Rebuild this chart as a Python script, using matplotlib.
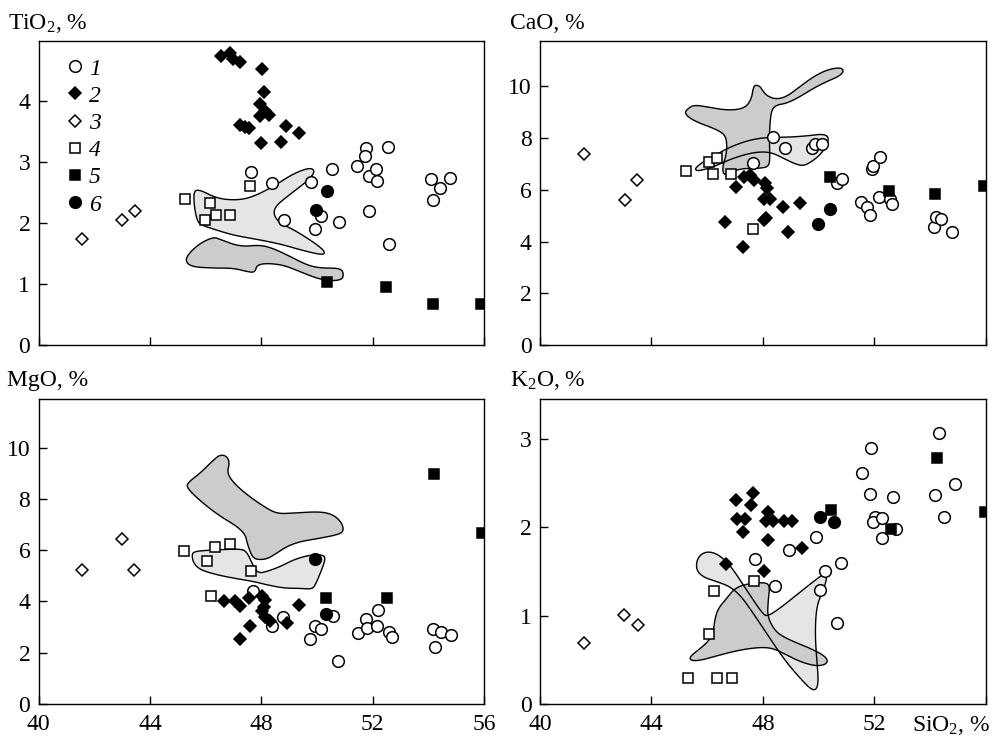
import numpy as np
import matplotlib.pyplot as plt

plt.rcParams['font.family'] = 'Liberation Serif'
plt.rcParams['mathtext.fontset'] = 'custom'
plt.rcParams['mathtext.rm'] = 'Liberation Serif'
plt.rcParams['mathtext.it'] = 'Liberation Serif:italic'

# ---- TiO2 vs SiO2 ----
tio2_g1 = [(47.63, 2.84), (48.38, 2.66), (48.80, 2.05), (49.79, 2.67), (49.92, 1.90), (50.16, 2.11),
           (50.54, 2.88), (50.78, 2.02), (51.42, 2.93), (51.77, 3.22), (51.73, 3.09), (51.86, 2.77),
           (52.13, 2.89), (52.14, 2.68), (51.86, 2.20), (52.56, 3.24), (52.60, 1.65), (54.10, 2.72),
           (54.41, 2.58), (54.76, 2.73), (54.18, 2.37)]
tio2_g2 = [(46.55, 4.74), (46.89, 4.78), (47.00, 4.68), (47.22, 4.64), (48.02, 4.52), (48.08, 4.15),
           (47.97, 3.95), (48.14, 3.84), (48.26, 3.77), (47.97, 3.75), (47.24, 3.61), (47.54, 3.55),
           (47.42, 3.57), (48.90, 3.58), (49.37, 3.48), (47.99, 3.31), (48.71, 3.32)]
tio2_g3 = [(41.57, 1.73), (43.01, 2.05), (43.46, 2.19)]
tio2_g4 = [(45.27, 2.40), (47.60, 2.61), (46.17, 2.32), (46.36, 2.13), (46.86, 2.13), (45.99, 2.04)]
tio2_g5 = [(50.36, 1.03), (52.49, 0.95), (54.16, 0.67), (55.88, 0.67)]
tio2_g6 = [(50.36, 2.52), (49.98, 2.22)]
tio2_light = [(45.57, 2.53), (45.81, 2.54), (46.41, 2.40), (47.13, 2.37), (47.72, 2.43), (48.44, 2.60),
              (49.16, 2.81), (49.76, 2.91), (49.94, 2.84), (49.64, 2.68), (48.92, 2.43), (48.50, 2.27),
              (48.44, 2.13), (48.68, 1.99), (49.16, 1.89), (49.76, 1.72), (50.18, 1.58), (50.30, 1.50),
              (50.12, 1.48), (49.40, 1.56), (48.80, 1.64), (48.20, 1.70), (47.60, 1.75), (47.00, 1.80),
              (46.41, 1.88), (45.81, 1.97), (45.69, 2.05), (45.59, 2.27)]
tio2_dark = [(46.29, 1.77), (46.52, 1.73), (47.24, 1.61), (47.96, 1.64), (48.44, 1.58), (49.04, 1.45),
             (49.64, 1.31), (50.12, 1.26), (50.84, 1.26), (50.96, 1.17), (50.90, 1.07), (50.49, 1.05),
             (50.01, 1.09), (49.40, 1.20), (48.80, 1.31), (48.20, 1.34), (47.84, 1.31), (47.78, 1.20),
             (47.60, 1.19), (47.00, 1.26), (46.29, 1.26), (45.51, 1.28), (45.27, 1.37), (45.39, 1.50),
             (45.81, 1.67)]

# ---- CaO vs SiO2 ----
cao_g1 = [(48.35, 8.05), (48.80, 7.63), (49.76, 7.60), (49.88, 7.77), (50.12, 7.77), (47.64, 7.05),
          (50.64, 6.27), (50.82, 6.42), (51.50, 5.54), (51.74, 5.32), (51.84, 5.03), (51.92, 6.80),
          (51.95, 6.92), (52.21, 7.28), (52.15, 5.73), (52.55, 5.63), (52.63, 5.45), (54.13, 4.57),
          (54.22, 4.96), (54.40, 4.86), (54.78, 4.36)]
cao_g2 = [(47.05, 6.12), (47.31, 6.51), (47.55, 6.57), (47.67, 6.38), (48.09, 6.27), (48.15, 6.08),
          (48.03, 5.63), (48.25, 5.63), (48.71, 5.32), (49.32, 5.50), (46.63, 4.74), (48.03, 4.83),
          (48.10, 4.90), (48.90, 4.36), (47.27, 3.78)]
cao_g3 = [(41.59, 7.37), (43.48, 6.38), (43.04, 5.60)]
cao_g4 = [(45.25, 6.74), (46.05, 7.06), (46.35, 7.22), (46.21, 6.61), (46.87, 6.61), (47.64, 4.50)]
cao_g5 = [(50.39, 6.51), (52.51, 5.96), (54.16, 5.84), (55.92, 6.15)]
cao_g6 = [(50.39, 5.26), (49.96, 4.68)]
cao_light = [(45.56, 6.83), (45.86, 7.09), (46.22, 7.28), (46.64, 7.56), (47.17, 7.80), (47.65, 7.95),
             (48.19, 8.03), (48.85, 8.03), (49.57, 8.08), (50.16, 8.16), (50.37, 8.03), (50.28, 7.69),
             (50.05, 7.35), (49.75, 7.09), (49.45, 6.92), (49.15, 7.00), (48.73, 7.22), (48.31, 7.44),
             (47.89, 7.47), (47.41, 7.38), (46.94, 7.22), (46.58, 7.06), (46.22, 6.89), (45.86, 6.77),
             (45.62, 6.73)]
cao_dark = [(45.26, 9.09), (45.50, 9.28), (45.98, 9.21), (46.58, 9.09), (47.06, 9.09), (47.41, 9.21),
            (47.59, 9.54), (47.65, 9.92), (47.71, 10.05), (47.89, 10.01), (48.01, 9.79), (48.19, 9.60),
            (48.49, 9.50), (48.85, 9.60), (49.33, 9.99), (49.81, 10.37), (50.28, 10.63), (50.76, 10.73),
            (50.91, 10.61), (50.76, 10.40), (50.28, 10.18), (49.81, 9.92), (49.33, 9.60), (48.85, 9.34),
            (48.49, 9.28), (48.31, 9.09), (48.25, 8.57), (48.23, 7.93), (48.25, 7.15), (48.19, 6.89),
            (47.89, 6.83), (47.41, 6.83), (47.06, 6.77), (46.82, 6.64), (46.58, 6.57), (46.55, 6.89),
            (46.70, 7.41), (46.70, 7.93), (46.58, 8.18), (46.22, 8.38), (45.74, 8.57), (45.38, 8.76),
            (45.20, 8.96)]

# ---- MgO vs SiO2 ----
mgo_g1 = [(47.69, 4.39), (48.78, 3.41), (48.38, 3.06), (49.94, 3.06), (50.15, 2.92), (49.76, 2.54),
          (50.58, 3.44), (50.76, 1.68), (51.48, 2.76), (51.77, 3.32), (51.80, 2.96), (52.16, 3.05),
          (52.20, 3.67), (52.58, 2.82), (52.68, 2.63), (54.15, 2.92), (54.46, 2.79), (54.80, 2.70),
          (54.23, 2.24)]
mgo_g2 = [(46.65, 4.00), (47.04, 4.00), (47.22, 3.84), (47.54, 4.13), (48.02, 4.22), (48.12, 4.06),
          (48.08, 3.80), (48.02, 3.61), (48.14, 3.41), (48.30, 3.25), (48.92, 3.15), (49.37, 3.87),
          (47.58, 3.06), (47.22, 2.54)]
mgo_g3 = [(41.55, 5.21), (42.99, 6.43), (43.43, 5.23)]
mgo_g4 = [(45.24, 5.95), (46.32, 6.11), (46.88, 6.24), (46.05, 5.56), (47.63, 5.17), (46.20, 4.23)]
mgo_g5 = [(54.20, 8.97), (55.94, 6.69), (50.34, 4.15), (52.52, 4.15)]
mgo_g6 = [(49.94, 5.66), (50.34, 3.52)]
mgo_light = [(45.54, 5.92), (45.81, 5.98), (46.53, 6.02), (47.24, 6.05), (47.48, 5.95), (47.72, 5.36),
             (47.90, 5.10), (48.20, 5.17), (48.68, 5.36), (49.16, 5.63), (49.76, 5.82), (50.24, 5.82),
             (50.30, 5.63), (50.12, 5.10), (49.94, 4.65), (49.82, 4.48), (49.40, 4.51), (48.80, 4.52),
             (48.20, 4.65), (47.72, 4.78), (47.00, 4.91), (46.41, 5.04), (45.81, 5.23), (45.57, 5.49),
             (45.51, 5.75)]
mgo_dark = [(45.33, 8.61), (45.81, 9.01), (46.29, 9.53), (46.53, 9.73), (46.77, 9.66), (46.86, 9.40),
            (46.77, 9.01), (47.01, 8.62), (47.49, 8.16), (48.08, 7.71), (48.56, 7.42), (49.16, 7.45),
            (50.12, 7.51), (50.60, 7.38), (50.90, 7.06), (50.96, 6.73), (50.72, 6.60), (50.12, 6.47),
            (49.40, 6.34), (48.92, 6.15), (48.56, 5.89), (48.20, 5.65), (47.84, 5.63), (47.66, 5.76),
            (47.49, 6.28), (47.43, 6.60), (47.13, 6.93), (46.53, 7.32), (46.05, 7.71), (45.63, 8.10),
            (45.35, 8.42)]

# ---- K2O vs SiO2 ----
k2o_g1 = [(51.89, 2.90), (54.30, 3.06), (51.55, 2.61), (51.85, 2.38), (52.66, 2.34), (54.18, 2.36),
          (54.90, 2.49), (54.50, 2.11), (52.01, 2.12), (51.95, 2.06), (52.27, 2.10), (52.27, 1.88),
          (52.78, 1.98), (49.91, 1.89), (48.92, 1.74), (47.72, 1.64), (48.42, 1.33), (50.24, 1.50),
          (50.03, 1.29), (50.81, 1.59), (50.66, 0.92)]
k2o_g2 = [(47.04, 2.31), (47.64, 2.39), (47.58, 2.25), (47.07, 2.09), (47.37, 2.09), (47.28, 1.94),
          (48.17, 2.17), (48.12, 2.07), (48.36, 2.07), (48.74, 2.07), (49.04, 2.07), (48.17, 1.86),
          (49.41, 1.76), (46.68, 1.58), (48.05, 1.50)]
k2o_g3 = [(41.59, 0.69), (43.03, 1.01), (43.52, 0.89)]
k2o_g4 = [(45.31, 0.29), (46.35, 0.29), (46.90, 0.29), (46.08, 0.79), (46.23, 1.28), (47.67, 1.39)]
k2o_g5 = [(50.45, 2.19), (54.24, 2.78), (55.98, 2.17), (52.59, 1.98)]
k2o_g6 = [(50.03, 2.12), (50.54, 2.06)]
k2o_light = [(45.92, 1.725), (46.34, 1.706), (46.82, 1.574), (47.41, 1.291), (48.01, 1.008), (48.19, 0.996),
             (48.61, 1.083), (49.21, 1.234), (49.81, 1.385), (50.16, 1.468), (50.31, 1.434), (50.16, 1.291),
             (49.92, 1.102), (49.87, 0.800), (49.93, 0.498), (49.99, 0.272), (49.93, 0.166), (49.75, 0.158),
             (49.39, 0.272), (48.97, 0.423), (48.61, 0.574), (48.13, 0.800), (47.65, 1.026), (47.23, 1.215),
             (46.82, 1.328), (46.34, 1.385), (45.86, 1.434), (45.60, 1.517), (45.64, 1.649)]
k2o_dark = [(46.99, 1.309), (47.41, 1.358), (48.01, 1.377), (48.25, 1.347), (48.19, 1.177), (48.16, 0.996),
            (48.37, 0.857), (48.61, 0.781), (49.09, 0.706), (49.69, 0.630), (50.16, 0.555), (50.34, 0.491),
            (50.22, 0.442), (49.87, 0.430), (49.33, 0.479), (48.85, 0.555), (48.37, 0.630), (47.89, 0.642),
            (47.17, 0.611), (46.46, 0.555), (45.74, 0.491), (45.40, 0.491), (45.38, 0.536), (45.68, 0.611),
            (46.04, 0.706), (46.22, 0.819), (46.28, 0.970), (46.40, 1.083), (46.70, 1.196)]

group_labels = ['1', '2', '3', '4', '5', '6']
styles = [dict(marker='o', mfc='white', ms=8.4),
          dict(marker='D', mfc='black', ms=6.5),
          dict(marker='D', mfc='white', ms=6.0),
          dict(marker='s', mfc='white', ms=7.3),
          dict(marker='s', mfc='black', ms=7.5),
          dict(marker='o', mfc='black', ms=8.4)]

LIGHT = '#e4e5e7'
DARK = '#cbccce'


def smooth(pts, n=3):
    # Chaikin corner cutting to round the traced outlines
    p = np.asarray(pts, float)
    for _ in range(n):
        q = np.roll(p, -1, axis=0)
        p = np.column_stack([0.75 * p + 0.25 * q, 0.25 * p + 0.75 * q]).reshape(-1, 2)
    return p


def panel(ax, groups, light, dark, ylim, yticks):
    lp, dp = smooth(light), smooth(dark)
    ax.fill(lp[:, 0], lp[:, 1], color=LIGHT, lw=0, zorder=1)
    ax.fill(dp[:, 0], dp[:, 1], color=DARK, lw=0, zorder=2)
    for p in (lp, dp):
        ax.fill(p[:, 0], p[:, 1], facecolor='none', edgecolor='black', lw=1.0, zorder=3)
    for pts, st, lab in zip(groups, styles, group_labels):
        a = np.array(pts)
        ax.plot(a[:, 0], a[:, 1], ls='none', mec='black', mew=1.1, zorder=4,
                label=lab, **st)
    ax.set_xlim(40, 56)
    ax.set_ylim(*ylim)
    ax.set_xticks([40, 44, 48, 52, 56])
    ax.set_yticks(yticks)
    ax.tick_params(direction='in', length=5.5, width=1, labelsize=17, pad=6)
    ax.tick_params(axis='x', pad=7)
    for s in ax.spines.values():
        s.set_linewidth(1)


fig = plt.figure(figsize=(9.97, 7.36), dpi=100)
ax_ti = fig.add_axes([0.0387, 0.5312, 0.4468, 0.4131])
ax_ca = fig.add_axes([0.5416, 0.5312, 0.4473, 0.4131])
ax_mg = fig.add_axes([0.0387, 0.0435, 0.4468, 0.4144])
ax_k = fig.add_axes([0.5416, 0.0435, 0.4473, 0.4144])

panel(ax_ti, [tio2_g1, tio2_g2, tio2_g3, tio2_g4, tio2_g5, tio2_g6], tio2_light, tio2_dark,
      (0, 4.98), [0, 1, 2, 3, 4])
panel(ax_ca, [cao_g1, cao_g2, cao_g3, cao_g4, cao_g5, cao_g6], cao_light, cao_dark,
      (0, 11.75), [0, 2, 4, 6, 8, 10])
panel(ax_mg, [mgo_g1, mgo_g2, mgo_g3, mgo_g4, mgo_g5, mgo_g6], mgo_light, mgo_dark,
      (0, 11.9), [0, 2, 4, 6, 8, 10])
panel(ax_k, [k2o_g1, k2o_g2, k2o_g3, k2o_g4, k2o_g5, k2o_g6], k2o_light, k2o_dark,
      (0, 3.45), [0, 1, 2, 3])

ax_ti.tick_params(labelbottom=False)
ax_ca.tick_params(labelbottom=False)
ax_k.set_xticklabels(['40', '44', '48', '52', ''])

leg = ax_ti.legend(loc='upper left', bbox_to_anchor=(0.039, 0.975), frameon=False,
                   prop=dict(family='Liberation Serif', style='italic', size=17),
                   handletextpad=0.2, labelspacing=0.24, handlelength=0.8, borderaxespad=0)

fs = 17
fig.text(8 / 997, 1 - 29 / 736, r'TiO$_\mathrm{2}$, %', fontsize=fs, va='baseline')
fig.text(510 / 997, 1 - 29 / 736, 'CaO, %', fontsize=fs, va='baseline')
fig.text(7 / 997, 1 - 386 / 736, 'MgO, %', fontsize=fs, va='baseline')
fig.text(510 / 997, 1 - 386 / 736, r'K$_\mathrm{2}$O, %', fontsize=fs, va='baseline')
fig.text(990 / 997, 1 - 731 / 736, r'SiO$_\mathrm{2}$, %', fontsize=fs, va='baseline', ha='right')

fig.savefig('out.png', dpi=100)
